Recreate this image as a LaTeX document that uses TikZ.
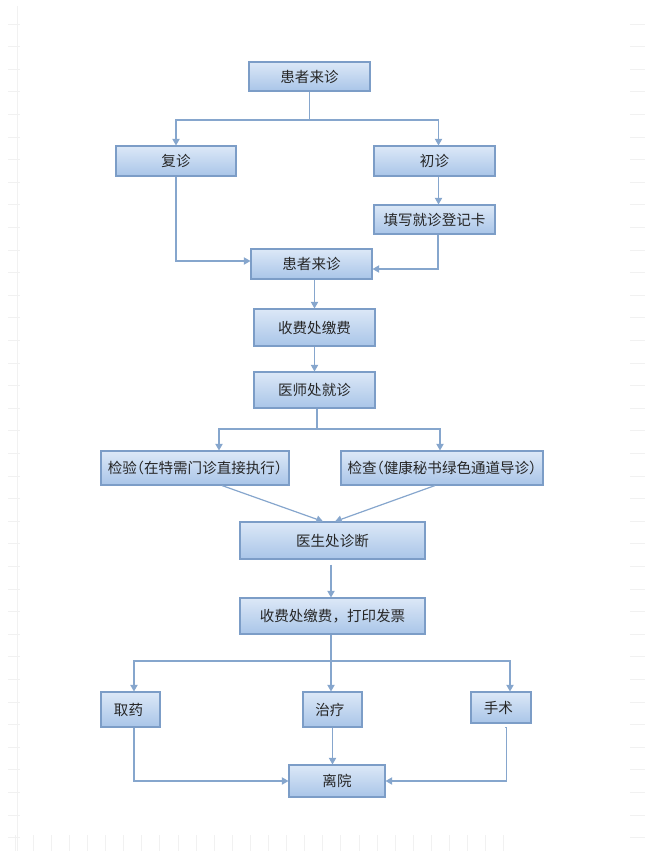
\documentclass[tikz,border=0pt]{standalone}
\usepackage{fontspec}
\setmainfont{Noto Sans CJK SC}
\usetikzlibrary{arrows.meta}
\definecolor{boxtop}{HTML}{DCE8F7}
\definecolor{boxbot}{HTML}{A9C5E8}
\definecolor{boxline}{HTML}{7C9DC7}
\definecolor{conn}{HTML}{86A6CD}
\definecolor{gridc}{HTML}{F1F1F1}
\newcommand{\hp}[1]{{\addfontfeature{RawFeature=+halt}#1}}
\tikzset{
  box/.style={draw=boxline, line width=0.8pt, top color=boxtop, bottom color=boxbot,
    inner sep=0pt, text=black!85, font=\fontsize{10.9pt}{13pt}\selectfont},
  bw/.style={minimum width=#1*0.75pt},
  bh/.style={minimum height=#1*0.75pt},
  conline/.style={draw=conn, line width=0.9pt},
  arr/.style={conline, -{Triangle[width=5.5pt,length=5pt]}},
  gridmark/.style={draw=gridc, line width=0.6pt}
}
\begin{document}
\begin{tikzpicture}[x=0.75pt,y=-0.75pt]
\useasboundingbox (0,0) rectangle (650,851);
% faint page grid marks
\draw[gridmark] (17,6) -- (17,851);
\foreach \k in {0,...,36} {
  \draw[gridmark] (8,24+22.6*\k) -- (20,24+22.6*\k);
  \draw[gridmark] (630,24+22.6*\k) -- (645,24+22.6*\k);
}
\foreach \k in {0,...,27} {
  \draw[gridmark] (15+18.1*\k,835) -- (15+18.1*\k,851);
}
% boxes
\node[box,bw=121,bh=29] (top) at (309.5,76.5) {患者来诊};
\node[box,bw=120,bh=30] (fz) at (176,161) {复诊};
\node[box,bw=121,bh=30] (cz) at (434.5,161) {初诊};
\node[box,bw=121,bh=29] (tx) at (434.5,219.5) {填写就诊登记卡};
\node[box,bw=121,bh=30] (hz) at (311.5,264) {患者来诊};
\node[box,bw=121,bh=37] (sf) at (314.5,327.5) {收费处缴费};
\node[box,bw=121,bh=36] (ys) at (314.5,390) {医师处就诊};
\node[box,bw=188,bh=34] (jy) at (195,468) {检验\hp{（}在特需门诊直接执行\hp{）}};
\node[box,bw=202,bh=34] (jc) at (442,468) {检查\hp{（}健康秘书绿色通道导诊\hp{）}};
\node[box,bw=185,bh=37] (zd) at (332.5,540.5) {医生处诊断};
\node[box,bw=185,bh=36] (sf2) at (332.5,616) {收费处缴费，打印发票};
\node[box,bw=59,bh=35] (qy) at (130.5,709.5) {\hspace*{-3pt}取药};
\node[box,bw=59,bh=35] (zl) at (332.5,709.5) {\hspace*{-4pt}治疗};
\node[box,bw=60,bh=31] (ss) at (501,707.5) {\hspace*{-4pt}手术};
\node[box,bw=96,bh=32] (ly) at (337,781) {离院};
% branch points
\coordinate (b1) at (310,120);
\coordinate (b2) at (317,429);
\coordinate (b3) at (331,661);
% connectors
\draw[conline] (top.south) -- (top.south |- b1);
\draw[arr] (top.south |- b1) -| (fz.north);
\draw[arr] (top.south |- b1) -| ([xshift=3pt]cz.north);
\draw[arr] ([xshift=3pt]cz.south) -- ([xshift=3pt]tx.north);
\draw[arr] (fz.south) |- ([yshift=2.25pt]hz.west);
\draw[arr] ([xshift=2.6pt]tx.south) |- ([yshift=-3.75pt]hz.east);
\draw[arr] (sf.north |- hz.south) -- (sf.north);
\draw[arr] (ys.north |- sf.south) -- (ys.north);
\draw[conline] (b2 |- ys.south) -- (b2);
\draw[arr] (b2) -| ([xshift=18pt]jy.north);
\draw[arr] (b2) -| ([xshift=-1.5pt]jc.north);
\draw[arr] ([xshift=20.25pt]jy.south) -- ([xshift=-7.1pt]zd.north);
\draw[arr] ([xshift=-5.25pt]jc.south) -- ([xshift=1.9pt]zd.north);
\draw[arr] ([yshift=-3.75pt]b3 |- zd.south) -- (b3 |- sf2.north);
\draw[conline] (b3 |- sf2.south) -- (b3);
\draw[arr] (b3) -- (b3 |- zl.north);
\draw[arr] (b3) -| ([xshift=2.6pt]qy.north);
\draw[arr] (b3) -| ([xshift=6.75pt]ss.north);
\draw[arr] ([xshift=2.6pt]qy.south) |- (ly.west);
\draw[arr] (zl.south) -- (zl.south |- ly.north);
\draw[arr] ([xshift=3pt,yshift=-3pt]ss.south) -- ++(1.5,0) |- (ly.east);
\end{tikzpicture}
\end{document}
